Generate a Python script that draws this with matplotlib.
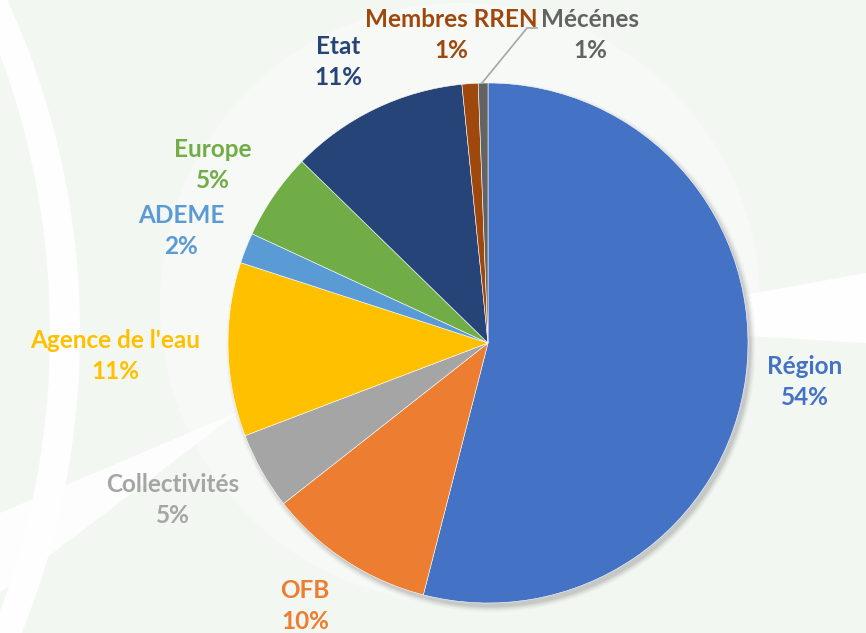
import matplotlib
matplotlib.use("Agg")
import matplotlib.pyplot as plt
from matplotlib.patches import Ellipse, Polygon
import numpy as np

categories = ["Région", "OFB", "Collectivités", "Agence de l'eau", "ADEME",
              "Europe", "Etat", "Membres RREN", "Mécénes"]
values = [54.0, 10.4, 4.8, 10.8, 1.9, 5.4, 11.1, 1.0, 0.6]
pct_labels = ["54%", "10%", "5%", "11%", "2%", "5%", "11%", "1%", "1%"]
colors = ["#4472C4", "#ED7D31", "#A5A5A5", "#FFC000", "#5B9BD5",
          "#70AD47", "#264478", "#9E480E", "#636363"]

W, H = 866, 633
fig = plt.figure(figsize=(W / 100, H / 100), dpi=100)
ax = fig.add_axes([0, 0, 1, 1])
ax.set_xlim(0, W)
ax.set_ylim(0, H)
ax.set_aspect("equal")
ax.axis("off")

# background
bg = "#f3f7f2"
fig.patch.set_facecolor(bg)
# white swooshes
ax.add_patch(Ellipse((-620, 300), 1400, 1500, facecolor="white", edgecolor="none", zorder=0, alpha=0.9))
ax.add_patch(Ellipse((-650, 300), 1400, 1500, facecolor=bg, edgecolor="none", zorder=0))
ax.add_patch(Ellipse((1250, 900), 1500, 800, facecolor="white", edgecolor="none", zorder=0))
ax.add_patch(Ellipse((1250, 870), 1500, 760, facecolor=bg, edgecolor="none", zorder=0))
ax.add_patch(Polygon([[0, 120], [330, 260], [330, 290], [0, 40]], closed=True,
                     facecolor="white", edgecolor="none", zorder=0, alpha=0.8))
ax.add_patch(Polygon([[700, 330], [866, 360], [866, 290], [700, 300]], closed=True,
                     facecolor="white", edgecolor="none", zorder=0, alpha=0.9))
ax.add_patch(Ellipse((460, 330), 600, 600, facecolor="white", edgecolor="none", zorder=0.5, alpha=0.35))

cx, cy, r = 488, H - 343, 260
# soft shadow
for k, a in zip(range(6), [0.05, 0.04, 0.03, 0.03, 0.02, 0.02]):
    ax.add_patch(Ellipse((cx + 3, cy - 4), 2 * r + 2 * k, 2 * r + 2 * k,
                         facecolor="black", edgecolor="none", alpha=a, zorder=1))

wedges, _ = ax.pie(values, colors=colors, startangle=90, counterclock=False,
                   center=(cx, cy), radius=r, frame=True,
                   wedgeprops=dict(edgecolor="white", linewidth=0.4))
for w in wedges:
    w.set_zorder(2)
ax.set_xlim(0, W)
ax.set_ylim(0, H)
ax.axis("off")

label_pos = [(805, 382), (305, 606), (173, 500), (115, 356), (181, 231),
             (213, 165), (338, 62), (451, 35), (590, 35)]
font = "Lato"
for cat, pct, col, (px, py) in zip(categories, pct_labels, colors, label_pos):
    ax.text(px, H - py, f"{cat}\n{pct}", color=col, ha="center", va="center",
            fontsize=17.5, fontweight="bold", family=font, linespacing=1.45, zorder=5)

# leader line for Mécénes
ax.plot([482, 527, 537], [H - 83, H - 28, H - 28], color="#a6a6a6", lw=1.2, zorder=4)

fig.savefig("out.png", dpi=100, facecolor=bg)
